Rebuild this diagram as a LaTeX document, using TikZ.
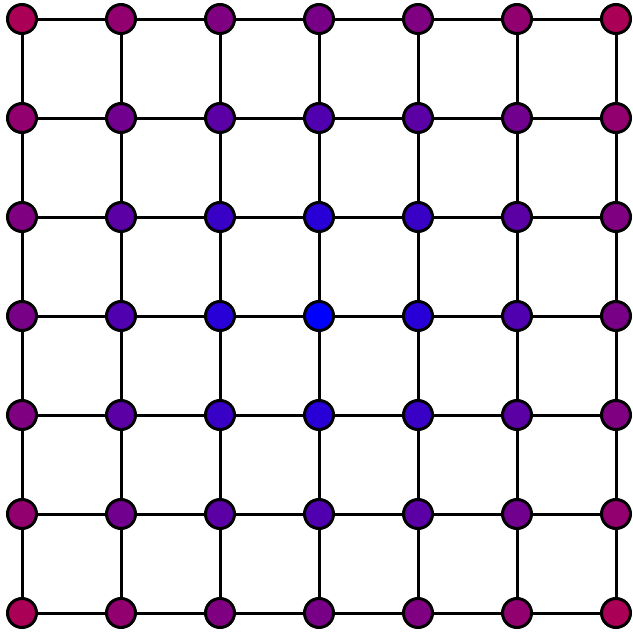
\documentclass[tikz,border=0pt]{standalone}
\begin{document}
\begin{tikzpicture}[x=1pt,y=-1pt,
  gnode/.style={circle,draw=black,line width=3pt,minimum size=29pt,inner sep=0pt},
  gedge/.style={draw=black,line width=3pt}]
\useasboundingbox (0,0) rectangle (633,632);
\foreach \i in {0,...,6}{
  \foreach \j in {0,...,6}{
    \pgfmathsetmacro\dd{sqrt((\i-3)^2+(\j-3)^2)}
    \pgfmathsetmacro\tt{100*\dd/6.36}
    \node[gnode,fill={red!\tt!blue}] (n\i-\j) at ({22+99*\i},{19+99*\j}) {};
  }
}
\foreach \i in {0,...,6}{
  \foreach \j [evaluate=\j as \jn using int(\j+1)] in {0,...,5}{
    \draw[gedge] (n\i-\j) -- (n\i-\jn);
    \draw[gedge] (n\j-\i) -- (n\jn-\i);
  }
}
\end{tikzpicture}
\end{document}
